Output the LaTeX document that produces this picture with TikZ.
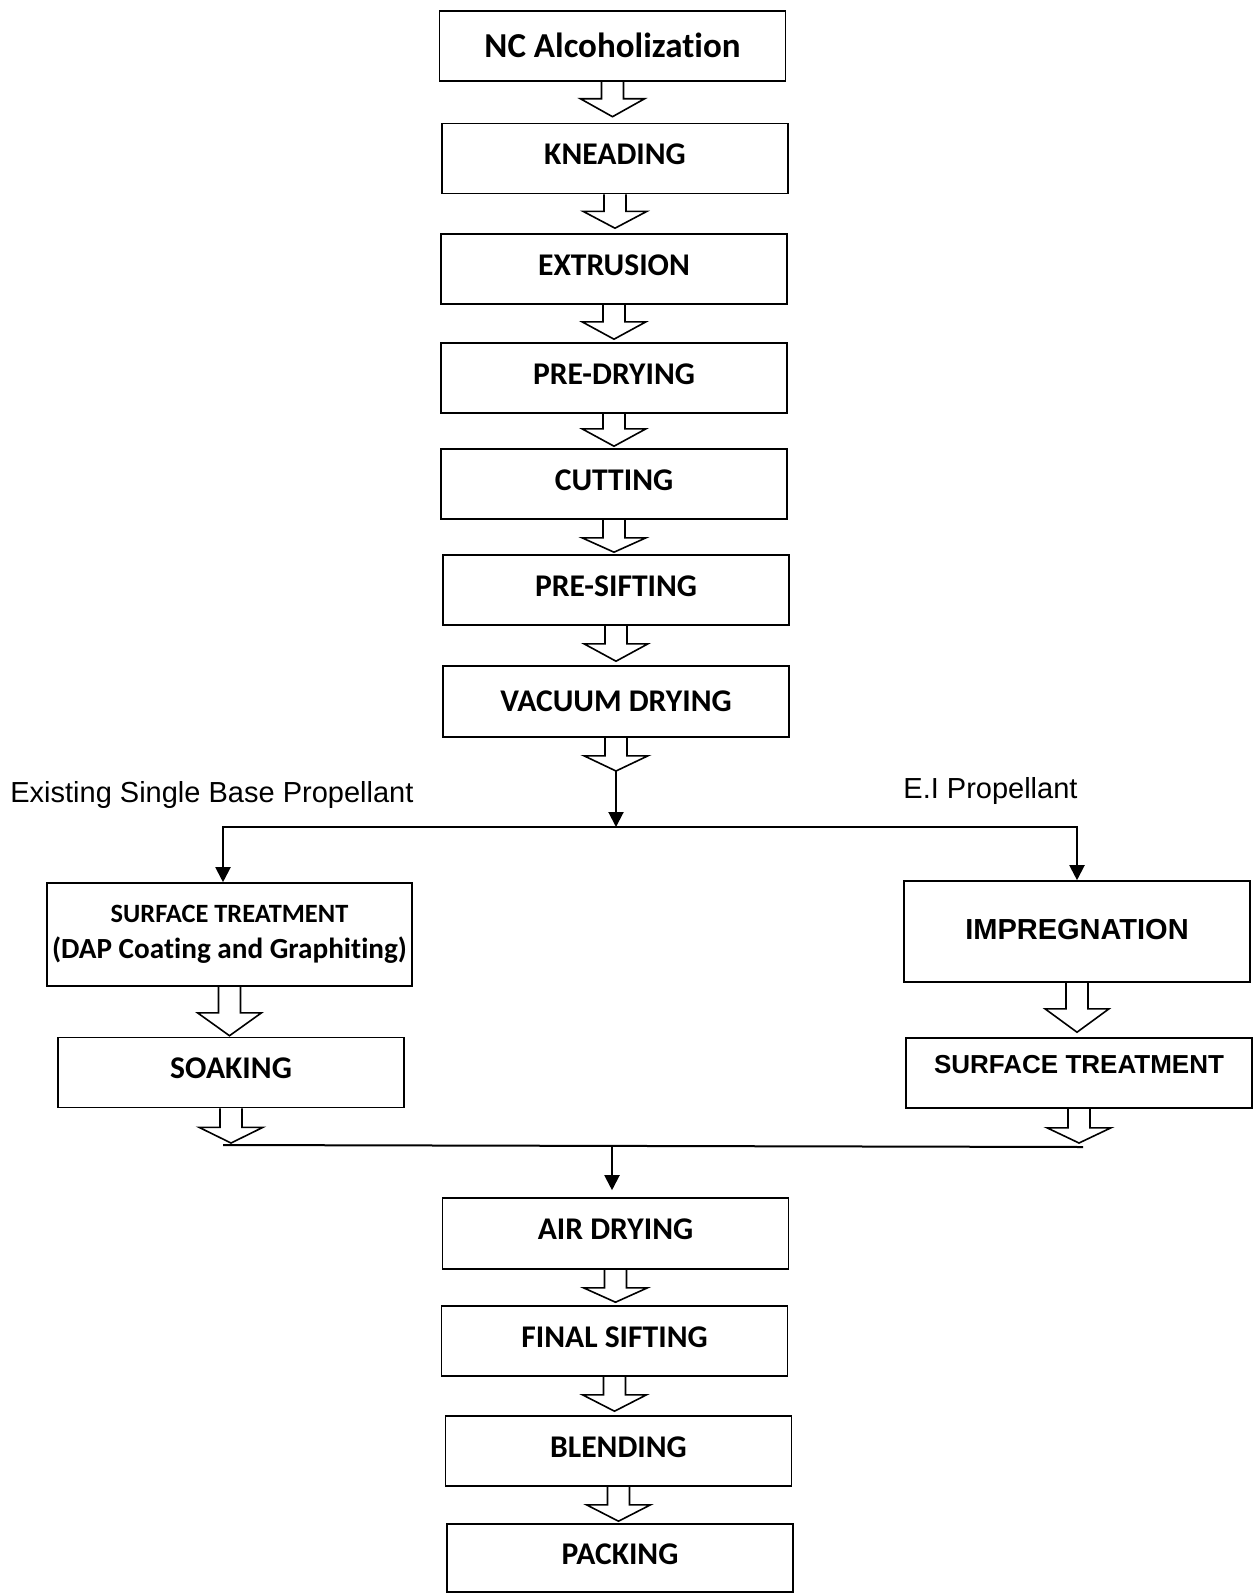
\documentclass[tikz,border=0pt]{standalone}
\usepackage{fontspec}
\setmainfont{Carlito}[Ligatures=NoCommon]
\newfontfamily\arialfont{Liberation Sans}
\usetikzlibrary{calc,arrows.meta}
\tikzset{
  stepbox/.style={draw, line width=0.8pt, minimum width=173pt, minimum height=35pt,
    inner sep=0pt, font=\bfseries\fontsize{15.8}{19}\selectfont, text depth=4pt},
  arialbox/.style={stepbox, font=\arialfont\bfseries\fontsize{14.5}{17}\selectfont},
  blockarr/.style={line width=0.8pt, line join=miter},
  thinline/.style={line width=1pt},
  thinarr/.style={line width=1pt, -{Triangle[length=7.5pt,width=7.5pt]}},
  lbl/.style={inner sep=0pt, font=\arialfont\fontsize{14.5}{17}\selectfont}
}
% #1 from node, #2 target coordinate, #3 shaft length (px), #4 gap before target (px)
\newcommand\blockarrowdraw[4]{%
  \draw[blockarr] let \p1=(#1.south), \p2=(#2) in
    (\x1-5.5pt,\y1) -- (\x1-5.5pt,\y1-#3*0.5pt) -- (\x1-16pt,\y1-#3*0.5pt)
    -- (\x1,\y2+#4*0.5pt) -- (\x1+16pt,\y1-#3*0.5pt) -- (\x1+5.5pt,\y1-#3*0.5pt)
    -- (\x1+5.5pt,\y1);}
\begin{document}
\begin{tikzpicture}[x=0.5pt,y=-0.5pt]
\fill[white] (0,0) rectangle (1256,1595);
\useasboundingbox (0,0) rectangle (1256,1595);

% main column
\node[stepbox, font=\bfseries\fontsize{17.5}{20}\selectfont, text depth=1pt] (nc) at (612.5,46) {NC Alcoholization};
\node[stepbox] (kn) at (615,158.5) {KNEADING};
\node[stepbox] (ex) at (614,269) {EXTRUSION};
\node[stepbox] (pd) at (614,378) {PRE-DRYING};
\node[stepbox] (cut) at (614,484) {CUTTING};
\node[stepbox] (ps) at (616,590) {PRE-SIFTING};
\node[stepbox, minimum height=35.5pt, text depth=0pt] (vac) at (616,701.5) {VACUUM DRYING};

% branches
\node[stepbox, minimum width=182.5pt, minimum height=51.5pt, align=center, text depth=3pt,
  font=\bfseries\fontsize{13.2}{18}\selectfont] (surfL) at (229.5,934.5)
  {SURFACE TREATMENT\\{\fontsize{14.6}{18}\selectfont (DAP Coating and Graphiting)}};
\node[stepbox] (soak) at (231,1072.5) {SOAKING};
\node[arialbox, minimum height=50.5pt, text depth=2.5pt] (imp) at (1077,931.5) {IMPREGNATION};
\node[arialbox, font=\arialfont\bfseries\fontsize{13}{16}\selectfont, text depth=9pt] (surfR) at (1079,1073) {SURFACE TREATMENT};

% lower column
\node[stepbox, minimum height=35.5pt] (air) at (615.5,1233.5) {AIR DRYING};
\node[stepbox] (fin) at (614.5,1341) {FINAL SIFTING};
\node[stepbox] (blend) at (618.5,1451) {BLENDING};
\node[stepbox, minimum height=34pt] (pack) at (620,1558) {PACKING};

% labels
\node[lbl, anchor=base west] (lblL) at (10,802) {Existing Single Base Propellant};
\node[lbl, anchor=base west] (lblR) at (903,798) {E.I Propellant};

% block arrows, main column
\blockarrowdraw{nc}{kn.north}{17}{6}
\blockarrowdraw{kn}{ex.north}{17}{5}
\blockarrowdraw{ex}{pd.north}{17}{3}
\blockarrowdraw{pd}{cut.north}{15}{2}
\blockarrowdraw{cut}{ps.north}{18}{2}
\blockarrowdraw{ps}{vac.north}{18}{4}

% split
\coordinate (vtip) at (616,771);
\coordinate (split) at (616,827);
\blockarrowdraw{vac}{vtip}{18}{0}
\draw[thinarr] (vtip) -- (split);
\draw[thinarr] (split) -| ([xshift=-3.25pt]surfL.north);
\draw[thinarr] (split) -| (imp.north);

% branch arrows
\blockarrowdraw{surfL}{soak.north}{26}{1}
\blockarrowdraw{imp}{surfR.north}{26}{5}

% merge
\coordinate (lineL) at (223,1145);
\coordinate (lineR) at (1083,1147);
\coordinate (merge) at (612,1146);
\blockarrowdraw{soak}{soak.south |- lineL}{19}{2}
\blockarrowdraw{surfR}{surfR.south |- lineR}{19}{4}
\draw[thinline] (lineL) -- (lineR);
\coordinate (airin) at ([yshift=3.5pt]air.north);
\draw[thinarr] (merge) -- (merge |- airin);

% block arrows, lower column
\blockarrowdraw{air}{fin.north}{18}{3}
\blockarrowdraw{fin}{blend.north}{18}{4}
\blockarrowdraw{blend}{pack.north}{18}{2}
\end{tikzpicture}
\end{document}
